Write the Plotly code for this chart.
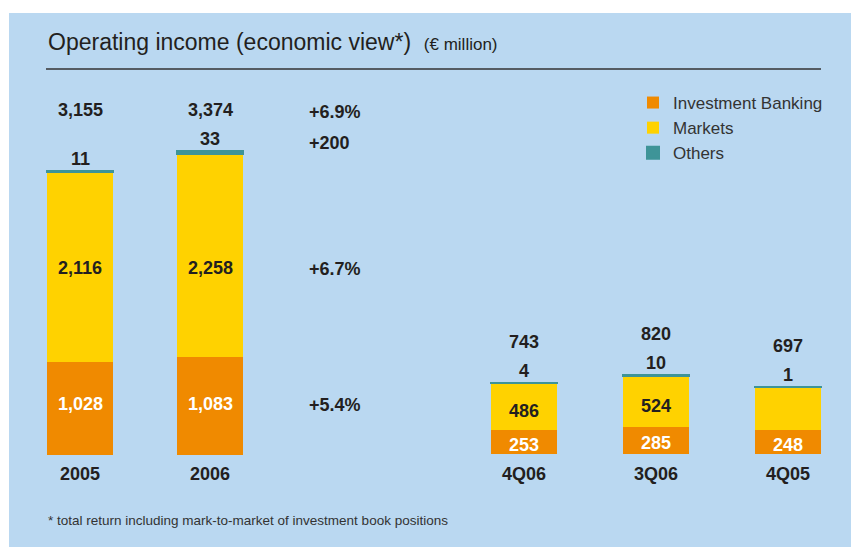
import plotly.graph_objects as go

W, H = 851, 547

# ---------------- data ----------------
periods_annual = ["2005", "2006"]
ib_annual = [1028, 1083]
markets_annual = [2116, 2258]
others_annual = [11, 33]
total_annual = [3155, 3374]

periods_q = ["4Q06", "3Q06", "4Q05"]
ib_q = [253, 285, 248]
markets_q = [486, 524, 448]
markets_q_labels = ["486", "524", ""]
others_q = [4, 10, 1]
total_q = [743, 820, 697]

changes = ["+6.9%", "+200", "+6.7%", "+5.4%"]

series_names = ["Investment Banking", "Markets", "Others"]
C_IB = "#F08A00"
C_MK = "#FFD200"
C_OT = "#3E9498"
BG = "#BAD8F1"
DARK = "#231F20"
FONT = "Liberation Sans, Arial, sans-serif"

def px_x(p):
    return p / W

def px_y(p):
    return (H - p) / H

fig = go.Figure()

colors = [C_IB, C_MK, C_OT]
annual_vals = [ib_annual, markets_annual, others_annual]
q_vals = [ib_q, markets_q, others_q]
for i, name in enumerate(series_names):
    lw = 2 if name == "Others" else 0
    fig.add_trace(go.Bar(
        x=periods_annual, y=annual_vals[i], name=name, xaxis="x", yaxis="y",
        marker=dict(color=colors[i], line=dict(color=colors[i], width=lw)),
        width=0.508, legendgroup=name, showlegend=True, hoverinfo="skip"))
    fig.add_trace(go.Bar(
        x=periods_q, y=q_vals[i], name=name, xaxis="x2", yaxis="y2",
        marker=dict(color=colors[i], line=dict(color=colors[i], width=lw)),
        width=0.5, legendgroup=name, showlegend=False, hoverinfo="skip"))

ann = []
bold = dict(family=FONT, size=18, color=DARK)
bold_w = dict(family=FONT, size=18, color="white")

# annual labels (category index positions)
for k, (ib, mk, ot, tot) in enumerate(zip(ib_annual, markets_annual, others_annual, total_annual)):
    ann.append(dict(x=k, xref="x", y=px_y(110), yref="paper", text=f"<b>{tot:,}</b>",
                    showarrow=False, font=bold, yanchor="middle"))
    ann.append(dict(x=k, xref="x", y=tot, yref="y", text=f"<b>{ot:,}</b>",
                    showarrow=False, font=bold, yanchor="bottom", yshift=0))
    ann.append(dict(x=k, xref="x", y=px_y(268), yref="paper", text=f"<b>{mk:,}</b>",
                    showarrow=False, font=bold, yanchor="middle"))
    ann.append(dict(x=k, xref="x", y=px_y(404), yref="paper", text=f"<b>{ib:,}</b>",
                    showarrow=False, font=bold_w, yanchor="middle"))

# change column
for txt, row in zip(changes, [112, 143, 269, 405]):
    ann.append(dict(x=px_x(307), xref="paper", y=px_y(row), yref="paper", text=f"<b>{txt}</b>",
                    showarrow=False, font=bold, xanchor="left", yanchor="middle"))

# quarterly labels
for k, (ib, mk, mkl, ot, tot) in enumerate(zip(ib_q, markets_q, markets_q_labels, others_q, total_q)):
    top = ib + mk + ot
    ann.append(dict(x=k, xref="x2", y=top, yref="y2", text=f"<b>{tot:,}</b>",
                    showarrow=False, font=bold, yanchor="bottom", yshift=29))
    ann.append(dict(x=k, xref="x2", y=top, yref="y2", text=f"<b>{ot:,}</b>",
                    showarrow=False, font=bold, yanchor="bottom", yshift=0))
    if mkl:
        ann.append(dict(x=k, xref="x2", y=ib + mk / 2, yref="y2", text=f"<b>{mkl}</b>",
                        showarrow=False, font=bold, yanchor="middle", yshift=-5))
    ann.append(dict(x=k, xref="x2", y=ib / 2, yref="y2", text=f"<b>{ib:,}</b>",
                    showarrow=False, font=bold_w, yanchor="middle", yshift=-3))

# title and footnote
ann.append(dict(x=px_x(46), xref="paper", y=px_y(57), yref="paper",
                text="Operating income (economic view*)  <span style='font-size:17px'>(€ million)</span>",
                showarrow=False, xanchor="left", yanchor="bottom",
                font=dict(family=FONT, size=23, color=DARK)))
ann.append(dict(x=px_x(46), xref="paper", y=px_y(520), yref="paper",
                text="* total return including mark-to-market of investment book positions",
                showarrow=False, xanchor="left", yanchor="middle",
                font=dict(family=FONT, size=13.5, color="#333333")))

shapes = [
    dict(type="rect", xref="paper", yref="paper", x0=px_x(9), x1=1, y0=0, y1=px_y(13),
         fillcolor=BG, line=dict(width=0), layer="below"),
    dict(type="line", xref="paper", yref="paper", x0=px_x(46), x1=px_x(821), y0=px_y(69), y1=px_y(69),
         line=dict(color="#333333", width=1.5)),
]

tickfont = dict(family=FONT, size=18, color=DARK)
fig.update_layout(
    width=W, height=H,
    margin=dict(l=0, r=0, t=0, b=0),
    paper_bgcolor="white", plot_bgcolor="rgba(0,0,0,0)",
    barmode="stack",
    showlegend=True,
    legend=dict(x=px_x(633), y=px_y(85), xanchor="left", yanchor="top",
                traceorder="normal", bgcolor="rgba(0,0,0,0)",
                font=dict(family=FONT, size=17, color="#333333"),
                tracegroupgap=1.5, itemwidth=30),
    xaxis=dict(domain=[px_x(15), px_x(275)], range=[-0.5, 1.5], type="category",
               showgrid=False, zeroline=False, showline=False, ticks="",
               tickfont=tickfont, tickprefix="<b>", ticksuffix="</b>", ticklabelstandoff=6),
    yaxis=dict(domain=[px_y(455), 1], range=[0, 5050], visible=False),
    xaxis2=dict(domain=[px_x(458), px_x(847.4)], range=[-0.5, 2.45], type="category",
                anchor="y2", showgrid=False, zeroline=False, showline=False, ticks="",
                tickfont=tickfont, tickprefix="<b>", ticksuffix="</b>", ticklabelstandoff=7),
    yaxis2=dict(domain=[px_y(454), 1], range=[0, 4729], visible=False, anchor="x2"),
    annotations=ann,
    shapes=shapes,
)

fig.write_html("out.html")
